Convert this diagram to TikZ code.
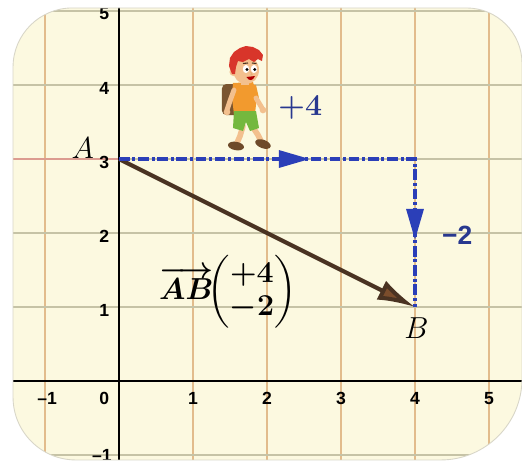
\documentclass[tikz,border=0pt]{standalone}
\usepackage{amsmath}
\usepackage{fontspec}
\newfontfamily\tickfont{Liberation Sans}
\usetikzlibrary{arrows.meta,decorations.markings}

\definecolor{card}{HTML}{FCF9E0}
\definecolor{cardedge}{HTML}{D8D6C8}
\definecolor{gridv}{HTML}{E2BC8C}
\definecolor{gridh}{HTML}{C6C3A6}
\definecolor{gridred}{HTML}{DC9C90}
\definecolor{pathblue}{HTML}{2B3FB8}
\definecolor{textblue}{HTML}{28388F}
\definecolor{vecbrown}{HTML}{4A3322}
\definecolor{headbrown}{HTML}{7B4D2C}
\definecolor{skin}{HTML}{F3C08E}
\definecolor{hair}{HTML}{D8352A}
\definecolor{shirt}{HTML}{F29A2E}
\definecolor{shorts}{HTML}{74B83E}
\definecolor{pack}{HTML}{7A5530}
\definecolor{shoe}{HTML}{6E4A2A}

\tikzset{
  gridx/.style={gridv, line width=0.6pt},
  gridy/.style={gridh, line width=0.6pt},
  axis/.style={black, line width=0.8pt},
  ticklabel/.style={font=\fontsize{10}{12}\selectfont\tickfont\bfseries, inner sep=0pt},
  bluepath/.style={pathblue, line width=1.8pt,
    dash pattern=on 6pt off 1.6pt on 1.7pt off 1.6pt},
  vecarrow/.style={vecbrown, line width=2.3pt,
    -{Latex[length=0.75cm, width=0.42cm, fill=headbrown]}},
  pointlabel/.style={font=\fontsize{17}{20}\selectfont, inner sep=0pt},
}

% outline of the card: left, right, top, bottom and corner radii
\def\cardpath{(-0.632,5.041) -- (4.696,5.041)
  arc[start angle=90, end angle=0, radius=0.75] -- (5.446,0.033)
  arc[start angle=0, end angle=-90, radius=1.1] -- (-0.582,-1.067)
  arc[start angle=-90, end angle=-180, radius=0.85] -- (-1.432,4.241)
  arc[start angle=180, end angle=90, radius=0.8] -- cycle}

% bold math labels, set once in boxes
\newsavebox{\vecbox}
\newsavebox{\stepbox}

\begin{document}
\sbox{\vecbox}{\fontsize{16}{19}\selectfont\boldmath
  $\overrightarrow{AB}\mkern-6mu\begin{pmatrix}+4\\-2\end{pmatrix}$}
\sbox{\stepbox}{\fontsize{17}{20}\selectfont\boldmath\color{textblue}$+4$}
\begin{tikzpicture}[x=1.48cm, y=1.48cm]
\useasboundingbox (-1.6081,-1.0676) rectangle (5.4459,5.1486);
\fill[white] (-1.6081,-1.0676) rectangle (5.4459,5.1486);

% card background
\fill[card] \cardpath;

\begin{scope}
  \clip \cardpath;
  % grid
  \foreach \i in {-1,1,2,3,4,5} \draw[gridx] (\i,-1.2) -- (\i,5.2);
  \foreach \j in {-1,1,2,4,5} \draw[gridy] (-1.7,\j) -- (5.6,\j);
  \draw[gridred, line width=0.6pt] (-1.7,3) -- (0,3);
  \draw[gridy] (0,3) -- (5.6,3);
  % axes
  \draw[axis] (-1.7,0) -- (5.6,0);
  \draw[axis] (0,-1.2) -- (0,5.2);
  % tick labels
  \foreach \j in {1,2,3,4,5} \node[ticklabel] (ty\j) at (-0.2,\j-0.04) {\j};
  \node[ticklabel] (tym) at (-0.23,-1.0) {–1};
  \node[ticklabel] (t0) at (-0.2,-0.24) {0};
  \node[ticklabel] (txm) at (-0.97,-0.24) {–1};
  \foreach \i in {1,2,3,4,5} \node[ticklabel] (tx\i) at (\i,-0.24) {\i};
\end{scope}
\draw[cardedge, line width=0.5pt] \cardpath;

% walking boy
\begin{scope}[shift={(1.297,4.5)}, x=0.02cm, y=-0.02cm]
  % legs
  \draw[skin, line width=3.2pt, line cap=round] (28,78) -- (25,88) -- (22,95);
  \draw[skin, line width=3.2pt, line cap=round] (37,78) -- (43,87) -- (46,93);
  % shoes
  \fill[shoe, rotate around={-10:(21,98)}] (21,98) ellipse (4.6pt and 2.4pt);
  \fill[shoe, rotate around={-20:(48,96)}] (48,96) ellipse (4.6pt and 2.4pt);
  % backpack
  \fill[pack, rounded corners=2.5pt] (7,36) rectangle (24,67);
  % shirt
  \fill[shirt] (18,35) -- (38,34) -- (42,48) -- (40,66) -- (19,66) -- (17,50) -- cycle;
  % shorts
  \fill[shorts] (19,63) -- (41,63) -- (44,80) -- (35,83) -- (31,74) -- (28,83) -- (18,80) -- cycle;
  % back arm
  \draw[skin, line width=2.8pt, line cap=round] (19,42) -- (15,53) -- (12,62);
  \fill[skin] (12,64) circle (1.9pt);
  % front arm
  \fill[shirt] (34,36) -- (41,37) -- (44,50) -- (37,51) -- cycle;
  \draw[skin, line width=2.8pt, line cap=round] (41,50) -- (47,60);
  \fill[skin] (48,62) circle (1.9pt);
  % neck and head
  \fill[skin] (26,29) rectangle (34,37);
  \fill[skin] (31,22) ellipse (7.4pt and 8pt);
  \fill[skin] (18.5,24) circle (2.3pt);
  % hair
  \fill[hair] (17,26) -- (14,18) -- (15,10) -- (19,4) -- (25,0) -- (31,-2) -- (38,-1)
    -- (44,2) -- (48,7) -- (47,13) -- (43,11) -- (39,14) -- (34,11) -- (28,14)
    -- (23,13) -- (21,19) -- (20,26) -- cycle;
  % eyes
  \fill[white] (31,21) ellipse (1.8pt and 2.3pt);
  \fill[white] (39,21) ellipse (1.8pt and 2.3pt);
  \fill[black] (32,21.5) circle (0.9pt);
  \fill[black] (39.8,21.5) circle (0.9pt);
  \draw[vecbrown, line width=0.6pt] (28,15.5) -- (33,15);
  \draw[vecbrown, line width=0.6pt] (37,15) -- (41.5,15.5);
  % nose and mouth
  \draw[skin!70!brown, line width=0.5pt] (35.5,23.5) -- (37,26.5) -- (35.5,27);
  \fill[red!70!black] (31.5,29) .. controls (34,33.5) and (38,33) .. (40,28) -- cycle;
\end{scope}

% points
\coordinate (A) at (0,3);
\coordinate (C) at (4,3);
\coordinate (B) at (4,1);

% vector AB
\draw[vecarrow] (A) -- (B);

% step path along the grid
\draw[bluepath, postaction={decorate}, decoration={markings,
    mark=at position 0.43 with {\arrow{Triangle[length=0.62cm, width=0.34cm]}},
    mark=at position 0.849 with {\arrow{Triangle[length=0.62cm, width=0.34cm]}}}]
  (A) -- (C) -- (B);

% labels
\node[pointlabel] (labA) at (-0.49,3.15) {$A$};
\node[pointlabel] (labB) at (4.02,0.72) {$B$};
\node[inner sep=0pt] (step1) at (2.45,3.69) {\usebox{\stepbox}};
\node[textblue, inner sep=0pt, font=\fontsize{15}{18}\selectfont\tickfont\bfseries] (step2) at (4.57,1.97) {−2};
\node[inner sep=0pt] (vec) at (1.47,1.2) {\usebox{\vecbox}};
\end{tikzpicture}
\end{document}
